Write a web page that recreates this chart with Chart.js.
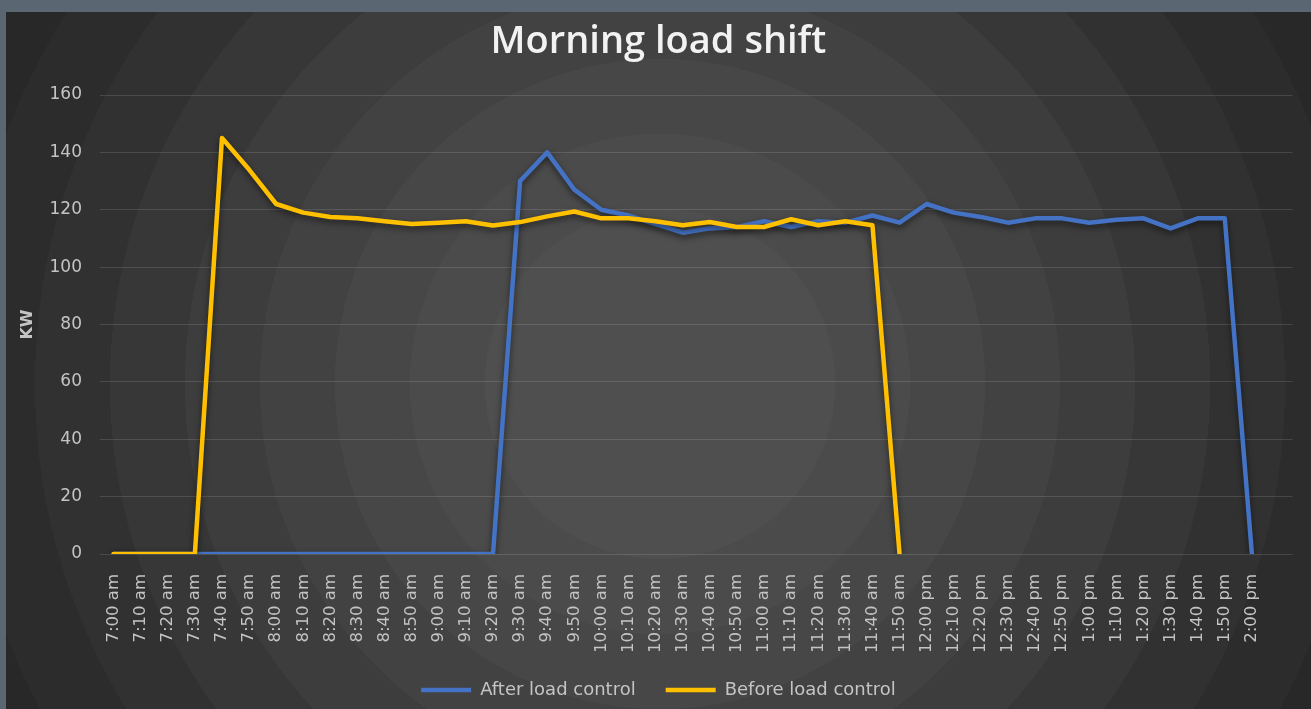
<!DOCTYPE html>
<html>
<head>
<meta charset="utf-8">
<script src="https://cdn.jsdelivr.net/npm/chart.js@4.4.1/dist/chart.umd.min.js"></script>
<style>
  html, body { margin: 0; padding: 0; background: #5b6673; overflow: hidden; }
  #wrap { position: absolute; left: 6px; top: 12px; width: 1305px; height: 697px; }
</style>
</head>
<body>
<div id="wrap"><canvas id="loadChart"></canvas></div>
<script>
// times every 10 minutes, last slot is an empty category like in the sheet
const timeLabels = [
  '7:00 am', '7:10 am', '7:20 am', '7:30 am', '7:40 am', '7:50 am',
  '8:00 am', '8:10 am', '8:20 am', '8:30 am', '8:40 am', '8:50 am',
  '9:00 am', '9:10 am', '9:20 am', '9:30 am', '9:40 am', '9:50 am',
  '10:00 am', '10:10 am', '10:20 am', '10:30 am', '10:40 am', '10:50 am',
  '11:00 am', '11:10 am', '11:20 am', '11:30 am', '11:40 am', '11:50 am',
  '12:00 pm', '12:10 pm', '12:20 pm', '12:30 pm', '12:40 pm', '12:50 pm',
  '1:00 pm', '1:10 pm', '1:20 pm', '1:30 pm', '1:40 pm', '1:50 pm',
  '2:00 pm', ''
]

const afterLoadControl = [
  0, 0, 0, 0, 0, 0,
  0, 0, 0, 0, 0, 0,
  0, 0, 0, 130, 140, 127,
  120, 118, 115, 112, 113.5, 114,
  116, 114, 116, 115.5, 118, 115.5,
  122, 119, 117.5, 115.5, 117, 117,
  115.5, 116.5, 117, 113.5, 117, 117,
  0
]

const beforeLoadControl = [
  0, 0, 0, 0, 145, 134,
  122, 119, 117.5, 117, 116, 115,
  115.5, 116, 114.5, 115.7, 117.7, 119.4,
  117, 117, 116, 114.6, 115.7, 114,
  114, 116.7, 114.6, 116, 114.6, 0
]

const yTicks = [0, 20, 40, 60, 80, 100, 120, 140, 160]

const labelGrey = '#c4c4c4'
const fontName = 'DejaVu Sans'

// stepped radial shading behind everything
const backdrop = {
  id: 'backdrop',
  beforeDraw(chart) {
    const ctx = chart.ctx
    const w = chart.width, h = chart.height
    const cx = 654, cy = 372
    const R = 900
    const edges = [175, 250, 325, 400, 475, 550, 625, 700, 775]
    const greys = [79, 75, 71, 66, 61, 55, 49, 44, 40, 36]
    const g = ctx.createRadialGradient(cx, cy, 0, cx, cy, R)
    g.addColorStop(0, `rgb(${greys[0]},${greys[0]},${greys[0]})`)
    edges.forEach((r, i) => {
      const a = `rgb(${greys[i]},${greys[i]},${greys[i]})`
      const b = `rgb(${greys[i + 1]},${greys[i + 1]},${greys[i + 1]})`
      g.addColorStop(r / R, a)
      g.addColorStop(Math.min(1, r / R + 0.0001), b)
    })
    g.addColorStop(1, 'rgb(33,33,33)')
    ctx.save()
    ctx.fillStyle = g
    ctx.fillRect(0, 0, w, h)
    ctx.restore()
  }
}

// soft drop shadow under the lines
const lineShadow = {
  id: 'lineShadow',
  beforeDatasetsDraw(chart) {
    const ctx = chart.ctx
    ctx.save()
    ctx.shadowColor = 'rgba(0,0,0,0.55)'
    ctx.shadowBlur = 6
    ctx.shadowOffsetY = 3
  },
  afterDatasetsDraw(chart) {
    chart.ctx.restore()
  }
}

const ctx = document.getElementById('loadChart')
new Chart(ctx, {
  type: 'line',
  data: {
    labels: timeLabels,
    datasets: [
      {
        label: 'After load control',
        data: afterLoadControl,
        borderColor: '#4472c4',
        backgroundColor: '#4472c4',
        borderWidth: 4.5,
        pointRadius: 0,
        tension: 0,
        borderCapStyle: 'round',
        borderJoinStyle: 'round',
        order: 1
      },
      {
        label: 'Before load control',
        data: beforeLoadControl,
        borderColor: '#ffc000',
        backgroundColor: '#ffc000',
        borderWidth: 4.5,
        pointRadius: 0,
        tension: 0,
        borderCapStyle: 'round',
        borderJoinStyle: 'round',
        order: 0
      }
    ]
  },
  options: {
    responsive: true,
    maintainAspectRatio: false,
    animation: false,
    layout: { padding: 0 },
    plugins: {
      title: {
        display: true,
        text: 'Morning load shift',
        color: '#f2f2f2',
        font: { family: 'Open Sans', size: 38, weight: '600', lineHeight: 1.2 },
        padding: { top: 7, bottom: 30.4 }
      },
      legend: {
        position: 'bottom',
        labels: {
          usePointStyle: true,
          pointStyle: 'line',
          pointStyleWidth: 50,
          color: labelGrey,
          font: { family: fontName, size: 18 },
          padding: 30,
          sort: (a, b) => a.datasetIndex - b.datasetIndex
        }
      },
      tooltip: { enabled: false }
    },
    scales: {
      x: {
        offset: true,
        grid: { display: false },
        border: { display: false },
        ticks: {
          autoSkip: false,
          maxRotation: 90,
          minRotation: 90,
          padding: 12,
          color: labelGrey,
          font: { family: fontName, size: 16.5 }
        },
        afterFit(scale) { scale.height = 97 }
      },
      y: {
        min: 0,
        max: 160,
        afterBuildTicks(scale) { scale.ticks = yTicks.map(v => ({ value: v })) },
        grid: { color: 'rgba(255,255,255,0.13)', lineWidth: 1, drawTicks: false },
        border: { display: false },
        ticks: {
          padding: 18,
          color: labelGrey,
          font: { family: fontName, size: 17 }
        },
        title: {
          display: true,
          text: 'KW',
          color: labelGrey,
          font: { family: fontName, size: 16, weight: 'bold' },
          padding: { top: 12, bottom: 0 }
        },
        afterFit(scale) { scale.width = 94 }
      },
      // empty strip on the right so the plot ends where the sheet's does
      yRight: {
        position: 'right',
        min: 0,
        max: 160,
        grid: { display: false },
        border: { display: false },
        ticks: { display: false },
        afterFit(scale) { scale.width = 17 }
      }
    }
  },
  plugins: [backdrop, lineShadow]
})
</script>
</body>
</html>
